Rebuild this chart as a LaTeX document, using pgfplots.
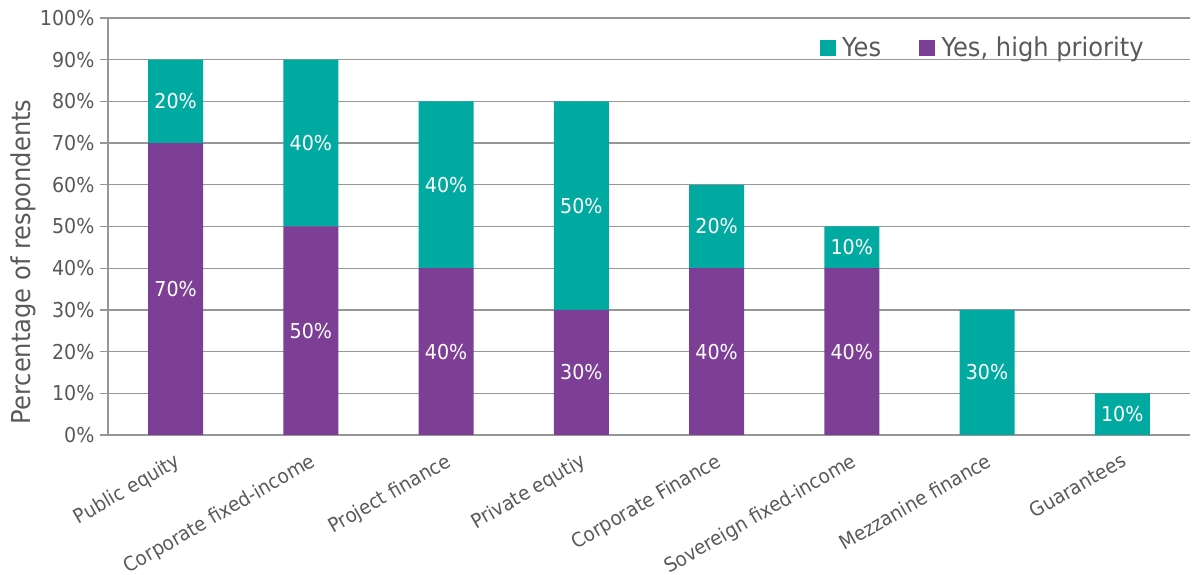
\documentclass[border=0pt]{standalone}
\usepackage{pgfplots}
\pgfplotsset{compat=1.18}
\usepackage{fontspec}
\setmainfont{DejaVu Sans}[FakeStretch=0.93]

\definecolor{yesteal}{RGB}{0,170,160}
\definecolor{yespurple}{RGB}{125,62,150}
\definecolor{txtgray}{RGB}{89,89,89}
\definecolor{linegray}{RGB}{150,150,150}

% share of respondents per instrument (%)
\pgfplotstableread{
x high yes
1 70 20
2 50 40
3 40 40
4 30 50
5 40 20
6 40 10
7 0  30
8 0  10
}\shares

% label positions (middle of each segment) and values
\pgfplotstableread{
x y v
1 35 70
2 25 50
3 20 40
4 15 30
5 20 40
6 20 40
}\highlabels
\pgfplotstableread{
x y v
1 80 20
2 70 40
3 60 40
4 55 50
5 50 20
6 45 10
7 15 30
8 5  10
}\yeslabels

\begin{document}
\begin{tikzpicture}
\pgfplotsset{
  base/.style={
    at={(108bp,140bp)}, anchor=south west,
    scale only axis, width=1082bp, height=417bp,
    xmin=0.5, xmax=8.5, ymin=0, ymax=100,
    /pgf/number format/assume math mode=true,
  },
  seglabels/.style={draw=none, mark=none, forget plot, point meta=explicit,
    nodes near coords={\pgfmathprintnumber{\pgfplotspointmeta}\%},
    nodes near coords align=center,
    every node near coord/.append style={anchor=center, text=white,
      font=\fontsize{20.5bp}{24bp}\selectfont}},
}
\begin{axis}[
  base,
  ybar stacked, bar width=55bp,
  axis lines*=left,
  axis line style={linegray, line width=1.3bp},
  ytick={0,10,...,100},
  yticklabel={\pgfmathprintnumber{\tick}\%},
  ymajorgrids, grid style={linegray, line width=1.3bp},
  tick align=outside, major tick length=8bp,
  tick style={linegray, line width=1.3bp},
  xtick={1,...,8}, x tick style={draw=none},
  minor xtick={0.5,1.5,...,8.5},
  minor tick length=8bp,
  xticklabels={Public equity, Corporate fixed-income, Project finance,
    Private equtiy, Corporate Finance, Sovereign fixed-income,
    Mezzanine finance, Guarantees},
  xticklabel style={rotate=30, anchor=north east, xshift=-4bp, yshift=-5bp,
    font=\fontsize{19.8bp}{23bp}\selectfont, text=txtgray, inner sep=2bp},
  yticklabel style={font=\fontsize{20.5bp}{24bp}\selectfont, text=txtgray,
    xshift=-2bp},
  ylabel={Percentage of respondents},
  every axis y label/.style={at={(ticklabel cs:0.415)}, rotate=90, anchor=south,
    inner sep=1bp},
  ylabel style={font=\fontsize{26bp}{30bp}\selectfont, text=txtgray},
]
\addplot[fill=yespurple, draw=none] table[x=x, y=high] {\shares};
\addplot[fill=yesteal, draw=none] table[x=x, y=yes] {\shares};
\end{axis}

\begin{axis}[
  base, hide axis,
  legend style={draw=none, fill=none, at={(0.962,0.965)}, anchor=north east,
    legend columns=2, font=\fontsize{26bp}{30bp}\selectfont, text=txtgray,
    /tikz/every odd column/.append style={column sep=5bp},
    /tikz/every even column/.append style={column sep=36bp}},
  legend image code/.code={\fill[#1] (0bp,-8bp) rectangle (15bp,7bp);},
]
\addlegendimage{yesteal}
\addlegendentry{Yes}
\addlegendimage{yespurple}
\addlegendentry{Yes, high priority}
\addplot[seglabels] table[x=x, y=y, meta=v] {\highlabels};
\addplot[seglabels] table[x=x, y=y, meta=v] {\yeslabels};
\end{axis}
\pgfresetboundingbox
\useasboundingbox (0,0) rectangle (1193bp,575bp);
\end{tikzpicture}
\end{document}
